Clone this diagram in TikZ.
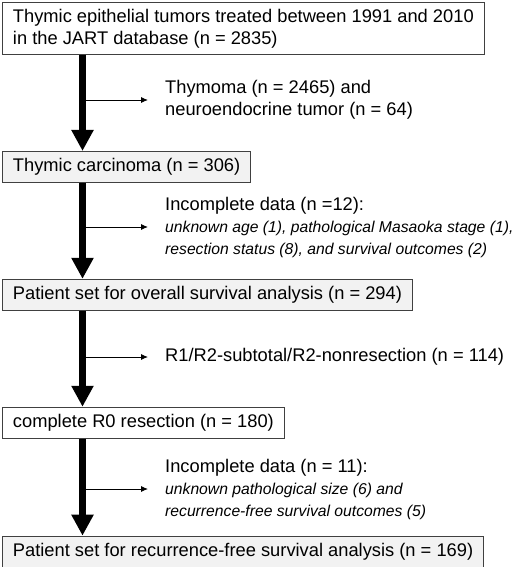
\documentclass[tikz,border=0pt]{standalone}
\usepackage{fontspec}
\setmainfont{Liberation Sans}
\usetikzlibrary{arrows.meta, positioning}

\newcommand{\detailfont}{\fontsize{15.7}{19.5}\selectfont\itshape}

\begin{document}
\begin{tikzpicture}[
  x=1pt, y=-1pt,
  font=\fontsize{18.3}{22}\selectfont,
  node distance=96pt,
  box/.style={draw=black!75, line width=0.9pt, align=left, inner xsep=10.5pt, inner ysep=6.5pt, minimum height=31pt, fill=white},
  muted/.style={box, fill=black!5},
  note/.style={align=left, inner sep=0pt, anchor=west},
  flow/.style={-{Triangle[width=21pt, length=21pt]}, line width=7pt},
  arrow/.style={-{Latex[length=7pt, width=6pt]}, line width=0.9pt}
]
  \useasboundingbox (0,0) rectangle (520,567);
  \coordinate (spine) at (82.5,0);

  \node[box, anchor=north west] (all) at (2,2) {Thymic epithelial tumors treated between 1991 and 2010\\in the JART database (n = 2835)};
  \node[muted, below=of all.south west, anchor=north west] (carc) {Thymic carcinoma (n = 306)};
  \node[muted, below=of carc.south west, anchor=north west] (os) {Patient set for overall survival analysis (n = 294)};
  \node[box, below=of os.south west, anchor=north west] (rzero) {complete R0 resection (n = 180)};
  \node[muted, below=97pt of rzero.south west, anchor=north west] (rfs) {Patient set for recurrence-free survival analysis (n = 169)};

  \node[note] (excl1) at (165,100) {Thymoma (n = 2465) and\\neuroendocrine tumor (n = 64)};
  \node[note] (excl2) at (165,227) {Incomplete data (n =12):\\ \detailfont unknown age (1), pathological Masaoka stage (1),\\ \detailfont resection status (8), and survival outcomes (2)};
  \node[note] (excl3) at (165,357) {R1/R2-subtotal/R2-nonresection (n = 114)};
  \node[note] (excl4) at (165,489) {Incomplete data (n = 11):\\ \detailfont unknown pathological size (6) and\\ \detailfont recurrence-free survival outcomes (5)};

  \draw[flow] (all.south -| spine) -- (carc.north -| spine);
  \draw[flow] (carc.south -| spine) -- (os.north -| spine);
  \draw[flow] (os.south -| spine) -- (rzero.north -| spine);
  \draw[flow] (rzero.south -| spine) -- (rfs.north -| spine);

  \draw[arrow] (spine |- excl1.west) -- ([xshift=-17pt]excl1.west);
  \draw[arrow] (spine |- excl2.west) -- ([xshift=-17pt]excl2.west);
  \draw[arrow] (spine |- excl3.west) -- ([xshift=-17pt]excl3.west);
  \draw[arrow] (spine |- excl4.west) -- ([xshift=-17pt]excl4.west);
\end{tikzpicture}
\end{document}
